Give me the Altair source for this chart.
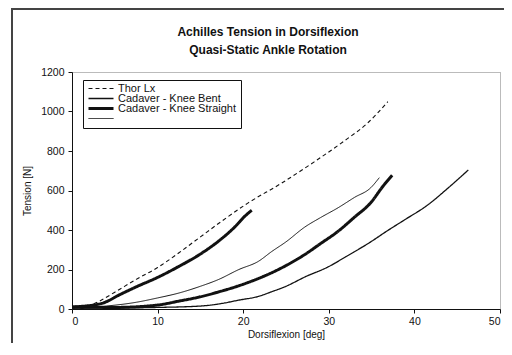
import altair as alt
import pandas as pd

# ---- data ----
thor_x = [1.0, 3, 5, 7.5, 10, 12.5, 15, 17.5, 20.5, 24.4, 28.3, 32.1, 34.5, 36.9]
thor_y = [0, 35, 85, 150, 210, 285, 365, 445, 535, 635, 745, 860, 940, 1050]

straight1_x = [0, 1, 3.6, 5.6, 7.5, 10, 12.5, 15.2, 17.1, 19.1, 20.2, 21.0]
straight1_y = [10, 13, 30, 73, 112, 160, 216, 284, 343, 419, 470, 500]

thin1_x = [0, 4, 7.5, 10, 12.5, 15, 17.1, 19.5, 21.8, 23.3, 25, 27.2, 29, 31.1, 33, 34.9, 35.9]
thin1_y = [5, 15, 34, 56, 81, 115, 149, 200, 242, 290, 340, 415, 462, 513, 565, 614, 665]

straight2_x = [0, 5, 10, 12.5, 15.2, 17, 19.3, 21.8, 23.3, 25, 27.2, 29, 31.1, 33, 34.9, 36.3, 37.4]
straight2_y = [10, 8, 20, 40, 64, 85, 115, 155, 183, 220, 276, 330, 394, 465, 538, 620, 677]

bent_x = [0, 5, 10, 15, 17.5, 19.5, 21.8, 23.3, 25, 27.2, 30, 32, 34.9, 36.8, 38.8, 41.5, 44, 46.3]
bent_y = [5, 5, 8, 15, 28, 45, 64, 87, 115, 162, 215, 265, 340, 395, 450, 525, 615, 704]

series_order = ["Thor Lx", "Cadaver - Knee Bent", "Cadaver - Knee Straight", " "]
title_lines = ["Achilles Tension in Dorsiflexion", "Quasi-Static Ankle Rotation"]

curves = [
    ("thor", "Thor Lx", thor_x, thor_y),
    ("s1", "Cadaver - Knee Straight", straight1_x, straight1_y),
    ("t1", " ", thin1_x, thin1_y),
    ("s2", "Cadaver - Knee Straight", straight2_x, straight2_y),
    ("b1", "Cadaver - Knee Bent", bent_x, bent_y),
]

rows = []
for cid, ser, xs, ys in curves:
    for i, (a, b) in enumerate(zip(xs, ys)):
        rows.append({"curve": cid, "series": ser, "x": a, "y": b, "i": i})
df = pd.DataFrame(rows)

FONT = "Arial, Liberation Sans, sans-serif"

lines = alt.Chart(df).mark_line(color="#111", interpolate="monotone").encode(
    x=alt.X("x:Q", scale=alt.Scale(domain=[0, 50], nice=False),
            axis=alt.Axis(values=[0, 10, 20, 30, 40, 50], title="Dorsiflexion [deg]",
                          grid=False, tickSize=4, labelPadding=3, titlePadding=3)),
    y=alt.Y("y:Q", scale=alt.Scale(domain=[0, 1200], nice=False),
            axis=alt.Axis(values=[0, 200, 400, 600, 800, 1000, 1200], title="Tension [N]",
                          format="d", grid=False, tickSize=4, labelPadding=4,
                          titlePadding=8)),
    detail="curve:N",
    order="i:Q",
    strokeDash=alt.StrokeDash("series:N", scale=alt.Scale(domain=series_order,
                              range=[[4, 3], [1, 0], [1, 0], [1, 0]]),
                              legend=alt.Legend(title=None)),
    strokeWidth=alt.StrokeWidth("series:N", scale=alt.Scale(type="ordinal",
                                domain=series_order, range=[1.1, 1.3, 3.0, 1.0]),
                                legend=alt.Legend(title=None)),
)

one = pd.DataFrame({"a": [0]})
frame_top = alt.Chart(one).mark_rule(stroke="#444", strokeWidth=2).encode(
    x=alt.value(-61), x2=alt.value(440), y=alt.value(-63))
frame_left = alt.Chart(one).mark_rule(stroke="#444", strokeWidth=2).encode(
    x=alt.value(-60), y=alt.value(-64), y2=alt.value(275))

title1 = alt.Chart(one).mark_text(font=FONT, fontSize=12, fontWeight="bold",
                                  color="#111", align="center", baseline="middle").encode(
    x=alt.value(196), y=alt.value(-40), text=alt.value(title_lines[0]))
title2 = alt.Chart(one).mark_text(font=FONT, fontSize=12, fontWeight="bold",
                                  color="#111", align="center", baseline="middle").encode(
    x=alt.value(196), y=alt.value(-22), text=alt.value(title_lines[1]))

chart = alt.layer(frame_top, frame_left, title1, title2, lines).properties(
    width=428, height=237,
    autosize=alt.AutoSizeParams(type="none"),
    padding={"left": 64, "top": 64, "right": 4, "bottom": 34},
).configure_view(
    stroke="#777", strokeDash=[1, 1], strokeWidth=1
).configure_axis(
    labelFont=FONT, titleFont=FONT, labelFontSize=10.5, titleFontSize=10,
    titleFontWeight="normal", labelColor="#111", titleColor="#111",
    domainColor="#111", tickColor="#111", domainWidth=1
).configure_legend(
    orient="none", legendX=11, legendY=8, strokeColor="#111", fillColor="white",
    padding=4, labelFont=FONT, labelFontSize=11, labelColor="#111",
    symbolType="stroke", symbolSize=625, symbolStrokeColor="#111",
    clipHeight=9, rowPadding=-4, labelOffset=3
)

chart.save("out.html", embed_options={"renderer": "svg", "actions": False})
